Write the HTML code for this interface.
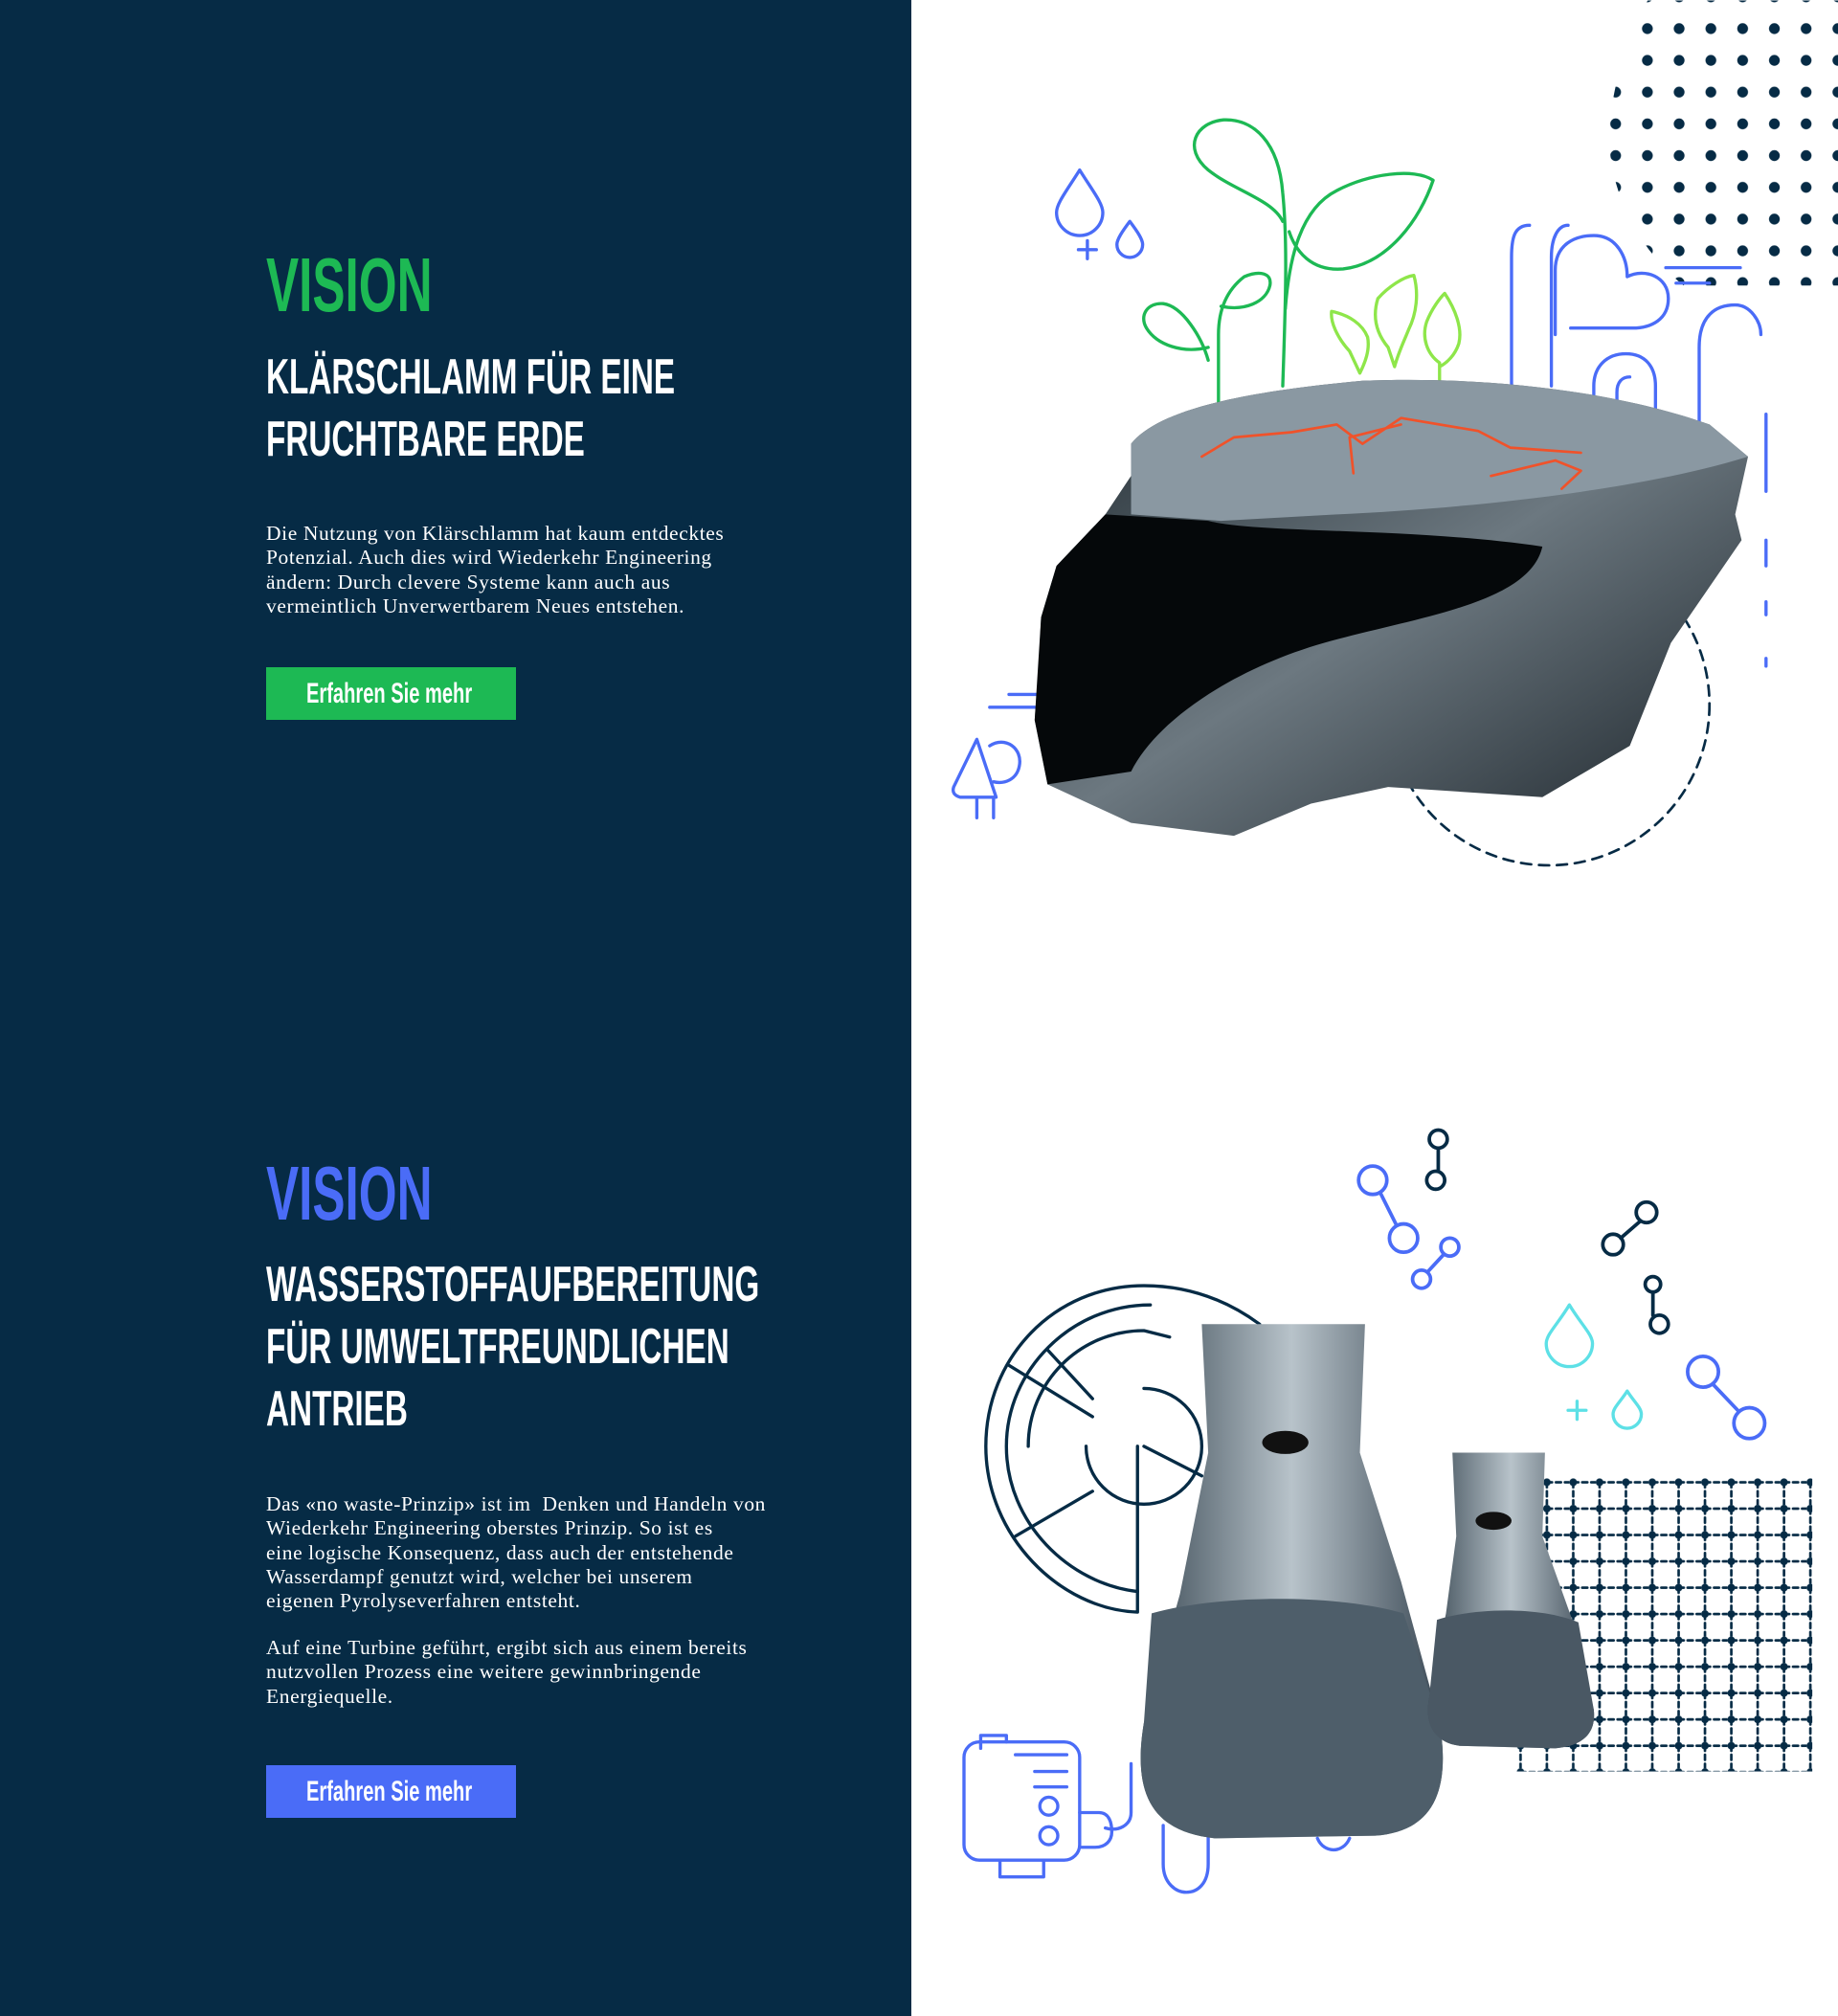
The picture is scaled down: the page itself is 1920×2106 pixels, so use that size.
<!DOCTYPE html>
<html><head><meta charset="utf-8"><style>
html,body{margin:0;padding:0;width:1920px;height:2106px;overflow:hidden;background:#fff}
.left{position:absolute;left:0;top:0;width:952px;height:2106px;background:#062b45}
svg.art{position:absolute;left:0;top:0}
.t{position:absolute;left:278px;white-space:nowrap;font-family:"Liberation Sans Narrow","Liberation Sans",sans-serif;transform-origin:0 0}
.v{font-size:80px;font-weight:bold;line-height:1;transform:scaleX(.64)}
.h{font-size:52px;font-weight:bold;color:#fff;line-height:65px;transform:scaleX(.64)}
.p{position:absolute;left:278px;font-family:"Liberation Serif",serif;font-size:21.5px;line-height:25.3px;color:#fff;letter-spacing:.6px;white-space:nowrap}
.b{position:absolute;left:278px;width:261px;height:55px;color:#fff}
.b span{position:absolute;left:42px;top:11px;font-family:"Liberation Sans Narrow","Liberation Sans",sans-serif;font-size:30px;font-weight:bold;white-space:nowrap;transform:scaleX(.67);transform-origin:0 0}
</style></head><body>
<div class="left"></div>
<svg class="art" width="1920" height="2106" viewBox="0 0 1430 1568" fill="none" stroke-linecap="round" stroke-linejoin="round">
<defs>
<clipPath id="dc"><path d="M1430 0 V222 H1310 C1270 190 1250 140 1252 100 C1255 60 1270 20 1282 0Z"/></clipPath>
<pattern id="dp" x="1257" y="22" width="24.7" height="24.7" patternUnits="userSpaceOnUse"><circle cx="0" cy="0" r="4.2" fill="#062b45"/><circle cx="24.7" cy="0" r="4.2" fill="#062b45"/><circle cx="0" cy="24.7" r="4.2" fill="#062b45"/><circle cx="24.7" cy="24.7" r="4.2" fill="#062b45"/></pattern>
<pattern id="gp" x="1180" y="1150" width="20.5" height="20.5" patternUnits="userSpaceOnUse"><circle cx="3" cy="3" r="3" fill="#062b45"/><path d="M3 3H23M3 3V23" stroke="#062b45" stroke-width="2" stroke-dasharray="4 3"/></pattern>
<linearGradient id="rk" x1="0" y1="0" x2="1" y2="1"><stop offset="0" stop-color="#202a30"/><stop offset=".5" stop-color="#6c7880"/><stop offset="1" stop-color="#1a2228"/></linearGradient>
<linearGradient id="fl" x1="0" y1="0" x2="1" y2="0"><stop offset="0" stop-color="#3b4a55"/><stop offset=".5" stop-color="#b8c3ca"/><stop offset="1" stop-color="#3a4854"/></linearGradient>
</defs>
<rect x="1240" y="0" width="190" height="230" fill="url(#dp)" clip-path="url(#dc)"/>
<g stroke="#4a6cf7" stroke-width="2.5">
<path d="M840 132 C830 148 822 158 822 165 a18 18 0 0 0 36 0 C858 158 850 148 840 132Z"/>
<path d="M879 172 C873 180 869 186 869 190 a10 10 0 0 0 20 0 C889 186 885 180 879 172Z"/>
<path d="M846 187v14M839 194h14"/>
<path d="M1190 175 C1178 175 1176 185 1176 200 V300"/>
<path d="M1207 300 V200 C1207 185 1212 175 1220 175"/>
<path d="M1210 260 V210 C1210 190 1225 183 1240 183 C1258 183 1266 200 1266 215 C1280 208 1298 215 1298 232 C1298 248 1285 255 1270 255 H1222"/>
<path d="M1240 330 V300 C1240 285 1250 275 1265 275 C1280 275 1288 285 1288 300 V330"/>
<path d="M1258 330 V305 C1258 297 1262 293 1268 293"/>
<path d="M1322 330 V270 C1322 245 1335 237 1350 237 C1362 237 1370 250 1370 260"/>
<path d="M1296 208H1354M1304 220H1330"/>
<path d="M1374 322V382M1374 420V440M1374 468V478M1374 512V518" />
<path d="M785 540H852M770 550H805"/>
<path d="M760 575 L742 612 Q740 618 747 620 H775 L760 575Z M760 620V636M773 620V636 M770 580 C782 572 796 582 793 596 C791 606 782 610 773 608"/>
</g>
<circle cx="1205" cy="548" r="125" stroke="#062b45" stroke-width="2" stroke-dasharray="8 6"/>
<g stroke="#1db954" stroke-width="2.5">
<path d="M998 300 C1000 240 1002 190 998 150 C995 110 975 92 952 93 C930 95 920 115 940 132 C960 148 990 155 998 172"/>
<path d="M1000 240 C1003 200 1012 162 1040 148 C1065 135 1100 130 1115 140 C1105 170 1080 205 1045 209 C1020 211 1008 195 1003 180"/>
<path d="M948 325 V260 C948 240 955 225 968 215 C980 210 990 212 988 222 C985 235 968 242 950 238"/>
<path d="M940 280 C935 262 920 238 905 236 C893 235 886 245 892 255 C900 268 920 275 940 270"/>
</g>
<g stroke="#8ee64a" stroke-width="2.5">
<path d="M1058 290 L1050 273 C1040 262 1035 250 1036 242 C1050 245 1060 252 1064 262 C1066 272 1062 282 1058 290Z"/>
<path d="M1085 285 L1080 270 C1070 258 1068 245 1072 232 C1080 223 1092 215 1100 214 C1104 228 1102 244 1096 256 C1092 266 1088 274 1085 285Z"/>
<path d="M1120 295 V282 C1110 275 1106 262 1110 250 C1114 240 1120 232 1124 228 C1132 240 1138 255 1135 267 C1132 276 1126 282 1120 285"/>
</g>
<path d="M880 345 C900 320 960 305 1060 296 C1160 292 1260 305 1330 330 L1360 355 L1350 400 L1355 420 L1300 500 L1268 580 L1200 620 L1080 612 L1020 625 L960 650 L880 640 L815 610 L805 560 L808 520 L810 480 L822 440 L860 400 L880 370Z" fill="url(#rk)"/>
<path d="M880 345 C900 320 960 305 1060 296 C1160 292 1260 305 1330 330 L1360 355 C1280 380 1150 395 1040 400 L950 405 L880 400 Z" fill="#8a98a2"/>
<path d="M860 400 L940 405 C980 415 1100 410 1200 425 C1190 470 1100 480 1030 500 C960 520 900 560 880 600 L815 610 L805 560 L810 480 L822 440Z" fill="#05080a"/>
<path d="M935 355 L960 340 L1005 336 L1040 330 L1060 345 L1090 325 L1150 335 L1175 348 L1230 352 M1090 330 L1050 340 L1053 368 M1160 370 L1210 358 L1230 366 L1215 380" stroke="#f0522a" stroke-width="2"/>
<g stroke="#4a6cf7" stroke-width="2.8">
<circle cx="1068" cy="918" r="11"/><path d="M1074 928L1086 952"/><circle cx="1092" cy="963" r="11"/>
<circle cx="1128" cy="970" r="7"/><path d="M1123 976L1111 989"/><circle cx="1106" cy="995" r="7"/>
<circle cx="1325" cy="1067" r="12"/><path d="M1333 1077L1352 1097"/><circle cx="1361" cy="1107" r="12"/>
</g>
<g stroke="#062b45" stroke-width="2.8">
<circle cx="1119" cy="886" r="7"/><path d="M1119 893V911"/><circle cx="1117" cy="918" r="7"/>
<circle cx="1281" cy="943" r="8"/><path d="M1276 950L1261 963"/><circle cx="1255" cy="968" r="8"/>
<circle cx="1286" cy="999" r="6"/><path d="M1286 1005V1023"/><circle cx="1291" cy="1030" r="7"/>
</g>
<g stroke="#5de0e6" stroke-width="2.5">
<path d="M1221 1015 C1212 1030 1203 1038 1203 1045 a18 18 0 0 0 36 0 C1239 1038 1230 1030 1221 1015Z"/>
<path d="M1266 1082 C1261 1090 1255 1095 1255 1100 a11 11 0 0 0 22 0 C1277 1095 1271 1090 1266 1082Z"/>
<path d="M1227 1090v14M1220 1097h14"/>
</g>
<rect x="1180" y="1150" width="230" height="228" fill="url(#gp)"/>
<g stroke="#062b45" stroke-width="2.5">
<path d="M980 1030 C950 1008 920 1000 890 1000 C820 1000 767 1056 767 1125 C767 1195 825 1252 885 1254 V1125"/>
<path d="M885 1238 C832 1232 783 1185 783 1125 C783 1066 833 1015 895 1015"/>
<path d="M890 1125 m-45 0 a45 45 0 1 0 45 -45"/>
<path d="M890 1125 L935 1148 M785 1062 L850 1102 M790 1195 L850 1160 M815 1050 L850 1088"/>
<path d="M800 1125 C800 1075 840 1035 890 1035 L910 1040"/>
</g>
<g stroke="#4a6cf7" stroke-width="2.5">
<rect x="750" y="1355" width="90" height="92" rx="12"/>
<path d="M763 1360V1350H783V1355M778 1447V1460H812V1447M790 1365H830M805 1378H830M805 1390H830"/>
<circle cx="816" cy="1405" r="7"/><circle cx="816" cy="1428" r="7"/>
<path d="M840 1410H855C863 1410 865 1418 865 1425C865 1432 860 1437 852 1437H840"/>
<path d="M880 1372V1410C880 1420 870 1425 860 1422"/>
<path d="M905 1420V1450C905 1465 915 1472 923 1472C932 1472 940 1465 940 1450V1420"/>
<path d="M1025 1430C1030 1442 1045 1442 1050 1430"/>
</g>
<path d="M935 1030 L1062 1030 L1058 1130 L1090 1230 L1120 1340 C1130 1400 1110 1425 1070 1428 L945 1430 C900 1425 880 1400 890 1340 L918 1240 L940 1130Z" fill="url(#fl)"/>
<path d="M896 1255 C950 1240 1040 1240 1092 1255 L1120 1340 C1130 1400 1110 1425 1070 1428 L945 1430 C900 1425 880 1400 890 1340Z" fill="#4e5e6a"/>
<path d="M1130 1130 L1202 1130 L1200 1195 L1225 1265 L1240 1330 C1242 1350 1230 1358 1210 1360 L1135 1358 C1115 1355 1108 1340 1112 1320 L1125 1255 L1133 1195Z" fill="url(#fl)"/>
<path d="M1118 1260 C1150 1250 1200 1250 1228 1262 L1240 1330 C1242 1350 1230 1358 1210 1360 L1135 1358 C1115 1355 1108 1340 1112 1320Z" fill="#4a5864"/>
<ellipse cx="1000" cy="1122" rx="18" ry="9" fill="#111"/>
<ellipse cx="1162" cy="1183" rx="14" ry="7" fill="#111"/>
</svg>

<div class="t v" style="top:258px;color:#1db954">VISION</div>
<div class="t h" style="top:362px">KLÄRSCHLAMM FÜR EINE<br>FRUCHTBARE ERDE</div>
<div class="p" style="top:545px">Die Nutzung von Klärschlamm hat kaum entdecktes<br>Potenzial. Auch dies wird Wiederkehr Engineering<br>ändern: Durch clevere Systeme kann auch aus<br>vermeintlich Unverwertbarem Neues entstehen.</div>
<div class="b" style="top:697px;background:#1db954"><span>Erfahren Sie mehr</span></div>

<div class="t v" style="top:1207px;color:#4a6cf7">VISION</div>
<div class="t h" style="top:1310px">WASSERSTOFFAUFBEREITUNG<br>FÜR UMWELTFREUNDLICHEN<br>ANTRIEB</div>
<div class="p" style="top:1559px">Das «no waste-Prinzip» ist im &nbsp;Denken und Handeln von<br>Wiederkehr Engineering oberstes Prinzip. So ist es<br>eine logische Konsequenz, dass auch der entstehende<br>Wasserdampf genutzt wird, welcher bei unserem<br>eigenen Pyrolyseverfahren entsteht.</div>
<div class="p" style="top:1709px">Auf eine Turbine geführt, ergibt sich aus einem bereits<br>nutzvollen Prozess eine weitere gewinnbringende<br>Energiequelle.</div>
<div class="b" style="top:1844px;background:#4a6cf7"><span>Erfahren Sie mehr</span></div>
</body></html>
